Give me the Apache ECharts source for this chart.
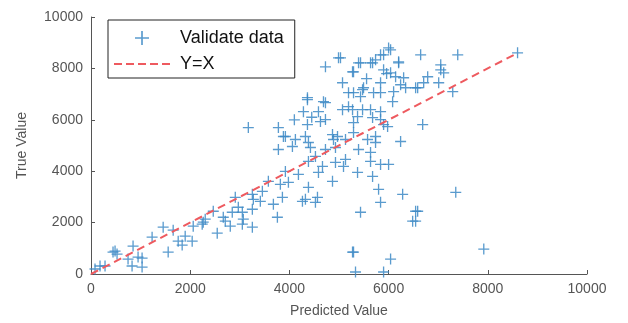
<!DOCTYPE html>
<html>
<head>
<meta charset="utf-8">
<script src="https://cdn.jsdelivr.net/npm/echarts@6/dist/echarts.min.js"></script>
<style>
  html, body { margin: 0; padding: 0; background: #fff; }
  #chart { width: 628px; height: 323px; }
</style>
</head>
<body>
<div id="chart"></div>
<script>
// predicted (x) / true (y) values of the validation points
const predicted = [
  81, 182, 283, 444, 525, 485, 747, 828, 848, 949, 1030, 1030, 1232, 1455, 1556, 1657, 1758, 1838, 1899, 2040, 2061, 2242,
  3172, 3778, 3879, 3778, 3919, 3818, 3576, 3455, 3253, 3273, 2909, 2970, 3253, 3051, 2848, 2667, 2465, 2303, 2263, 2808,
  3051, 3253, 2545, 3677, 3758, 3414, 3859, 3071, 2707,
  4727, 4990, 5071, 5192, 4364, 4687, 4283, 4586, 5192, 5071, 4364, 4626, 4727, 3919, 4121, 4323, 4061, 4384, 4424, 4869,
  4970, 4889, 5131, 4727, 4929, 4525, 4384, 4667, 4929, 5131, 4586, 4182, 4869, 3980, 4384, 4323, 4263, 4566, 4525, 5091, 5273,
  6040, 5899, 5737, 5636, 6202, 5293, 5434, 5899, 6040, 6141, 6303, 5838, 6242, 6343, 5495, 5293, 5697, 5434, 5838, 6101,
  6545, 6081, 5273, 5475, 5636, 5838, 5374, 5677, 5838, 5293, 5899, 5980, 5293, 5576, 5737, 6242, 5737, 5394, 5636, 5636,
  5838, 6000, 5374, 5677, 5798, 5838, 6283, 6545, 6485, 5434, 5293, 6040, 5333, 5899,
  6646, 7394, 7051, 7051, 7111, 6788, 6707, 7010, 6586, 7293, 6687, 7354, 6586, 6545, 7919, 8600,
  5394, 5273, 5677, 5838, 6000, 6202, 5475, 4727, 4364, 5030, 5556, 5960, 4450, 4100
];
const actual = [
  194, 310, 310, 853, 775, 891, 581, 310, 1085, 659, 620, 271, 1434, 1822, 853, 1705, 1279, 1124, 1473, 1279, 1860, 1938,
  5698, 5698, 5349, 4845, 3992, 3488, 3605, 3217, 3101, 2907, 2984, 2597, 2519, 2403, 2403, 2209, 2442, 2132, 2016, 1860,
  1938, 1822, 1589, 2713, 2209, 2829, 2984, 2132, 2054,
  8062, 8411, 7442, 7054, 6860, 6705, 6318, 6318, 6512, 6395, 5814, 5930, 6008, 5349, 5233, 5349, 4961, 5116, 4922, 5426,
  5349, 5233, 5233, 4845, 4922, 4574, 4380, 4186, 4341, 4457, 3953, 3876, 3605, 3566, 3372, 2907, 2829, 2984, 2790, 4186, 853,
  8721, 8527, 8333, 8217, 8217, 7868, 8217, 7946, 7829, 7674, 7636, 7442, 7364, 7248, 7248, 7054, 7054, 6899, 7054, 7093,
  7248, 6705, 6395, 6395, 6395, 6318, 6124, 6085, 6008, 5891, 5814, 5736, 5504, 5233, 5349, 5155, 5116, 4845, 4729, 4380,
  4264, 4264, 3953, 3798, 3295, 2790, 3101, 2442, 2054, 2403, 853, 581, 78, 78,
  8527, 8527, 8140, 7946, 7829, 7674, 7442, 7442, 7248, 7093, 5814, 3178, 2442, 2054, 969, 8605,
  8217, 7868, 8217, 8527, 8798, 8256, 7171, 6667, 6783, 8411, 7600, 7800, 6100, 6000
];
// reference line Y = X
const lineX = [0, 8600];
const lineY = [0, 8600];

const plusPath = 'path://M4.4,0h1.2v4.4h4.4v1.2h-4.4v4.4h-1.2v-4.4h-4.4v-1.2h4.4z';
const dashPath = 'path://M0,6h8v2h-8zM12,6h8v2h-8zM24,6h8v2h-8zM36,6h8v2h-8zM48,6h8v2h-8zM0,0h0.01v0.01h-0.01zM55.99,13.99h0.01v0.01h-0.01z';

const chart = echarts.init(document.getElementById('chart'));

const scatterData = predicted.map((x, i) => [x, actual[i]]);
const lineData = lineX.map((x, i) => [x, lineY[i]]);

const axisText = { color: '#555', fontSize: 14, fontFamily: 'Liberation Sans, Arial' };

const option = {
  animation: false,
  grid: { left: 91, right: 41, top: 17, bottom: 48 },
  legend: {
    left: 108,
    top: 20,
    orient: 'vertical',
    backgroundColor: '#fff',
    borderColor: '#222',
    borderWidth: 1,
    borderRadius: 0,
    padding: [9, 11, 5, 6],
    itemGap: 8,
    itemWidth: 56,
    itemHeight: 14,
    textStyle: { color: '#111', fontSize: 18, fontFamily: 'Liberation Sans, Arial', padding: [0, 0, 0, 5] },
    data: [
      { name: 'Validate data', icon: plusPath },
      { name: 'Y=X', icon: dashPath }
    ]
  },
  xAxis: {
    type: 'value',
    min: 0,
    max: 10000,
    interval: 2000,
    name: 'Predicted Value',
    nameLocation: 'middle',
    nameGap: 30,
    nameTextStyle: axisText,
    axisLine: { lineStyle: { color: '#555' } },
    axisTick: { inside: true, length: 4, lineStyle: { color: '#555' } },
    axisLabel: Object.assign({ margin: 8, formatter: v => String(v) }, axisText),
    splitLine: { show: false }
  },
  yAxis: {
    type: 'value',
    min: 0,
    max: 10000,
    interval: 2000,
    name: 'True Value',
    nameLocation: 'middle',
    nameGap: 62,
    nameTextStyle: axisText,
    axisLine: { show: true, lineStyle: { color: '#555' } },
    axisTick: { show: true, inside: true, length: 4, lineStyle: { color: '#555' } },
    axisLabel: Object.assign({ margin: 8, formatter: v => String(v) }, axisText),
    splitLine: { show: false }
  },
  series: [
    {
      name: 'Validate data',
      type: 'scatter',
      symbol: plusPath,
      symbolSize: 11,
      itemStyle: { color: '#3d89c6', opacity: 0.85 },
      data: scatterData,
      z: 3
    },
    {
      name: 'Y=X',
      type: 'line',
      symbol: 'none',
      itemStyle: { color: '#ee5a5f' },
      lineStyle: { color: '#ee5a5f', width: 2, type: [8, 5] },
      data: lineData,
      z: 4
    }
  ]
};

chart.setOption(option);
</script>
</body>
</html>
